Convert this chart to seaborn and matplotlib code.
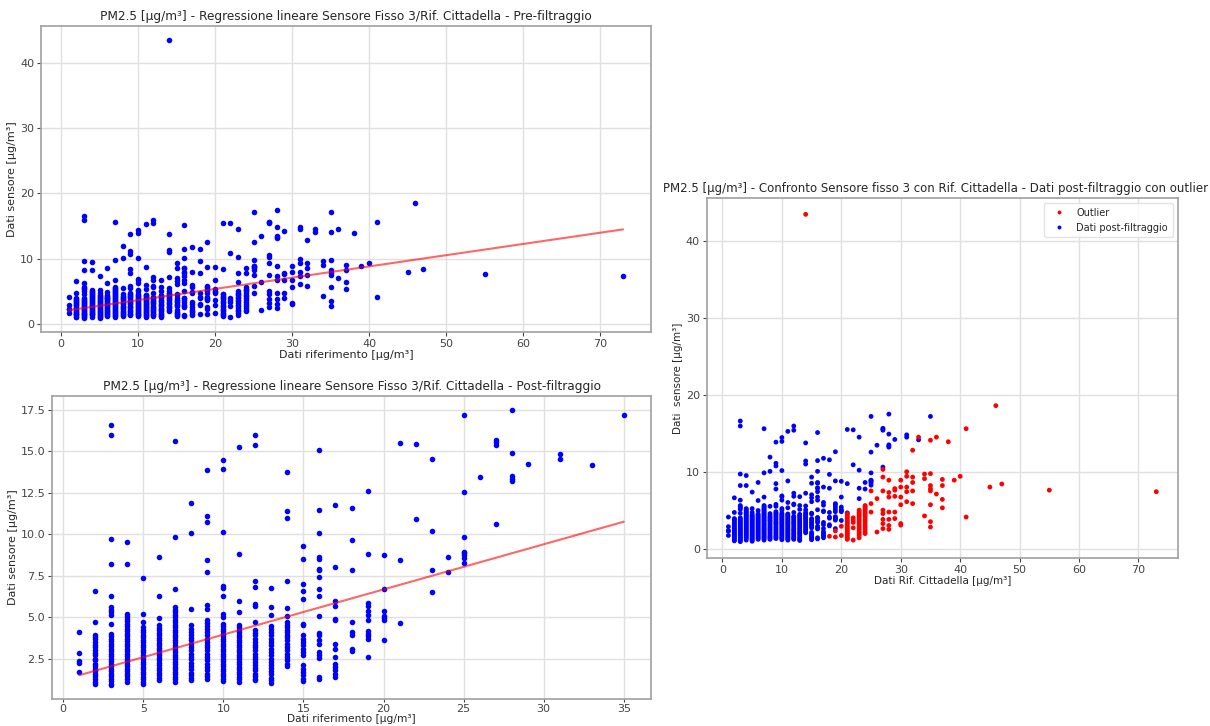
import numpy as np
import pandas as pd
import matplotlib
matplotlib.use("Agg")
import matplotlib.pyplot as plt
import seaborn as sns

# --- Post-filtering data: reference value (x) and sensor readings at that value ---
post_ref = [1, 2, 3, 4, 5, 6, 7, 8, 9, 10, 11, 12, 13, 14, 15, 16, 17, 18, 19, 20,
            21, 22, 23, 24, 25, 26, 27, 28, 29, 31, 33, 35]
post_sens = [
    [4.1, 2.85, 2.35, 2.25, 1.7],
    [6.6, 4.7, 3.9, 3.8, 3.7, 3.5, 3.35, 3.2, 3.0, 2.85, 2.7, 2.5, 2.4, 2.2, 2.05, 1.9,
     1.75, 1.6, 1.45, 1.3, 1.1, 1.0],
    [16.6, 15.95, 9.7, 8.2, 6.3, 5.6, 5.45, 5.3, 5.1, 4.6, 4.0, 3.85, 3.7, 3.55, 3.4, 3.25,
     3.1, 2.95, 2.8, 2.65, 2.5, 2.35, 2.2, 2.05, 1.9, 1.75, 1.6, 1.45, 1.3, 1.15, 1.0, 0.9],
    [9.5, 8.2, 5.2, 5.05, 4.9, 4.75, 4.6, 4.45, 4.3, 4.15, 4.0, 3.85, 3.7, 3.55, 3.4, 3.25,
     3.1, 2.95, 2.8, 2.65, 2.5, 2.35, 2.2, 2.05, 1.9, 1.75, 1.6, 1.45, 1.3, 1.1],
    [7.35, 5.2, 4.7, 4.4, 4.25, 4.1, 3.95, 3.8, 3.65, 3.5, 3.35, 3.2, 3.05, 2.9, 2.75, 2.6,
     2.45, 2.3, 2.15, 2.0, 1.85, 1.7, 1.55, 1.4, 1.25, 1.1, 0.95],
    [8.6, 6.25, 4.95, 4.5, 4.35, 4.2, 4.05, 3.9, 3.75, 3.6, 3.45, 3.3, 3.15, 3.0, 2.85, 2.7,
     2.55, 2.4, 2.25, 2.1, 1.95, 1.8, 1.65, 1.5, 1.35, 1.2],
    [15.6, 9.85, 6.7, 5.6, 5.45, 5.3, 5.15, 5.0, 4.85, 4.7, 4.55, 4.4, 4.25, 4.1, 3.95, 3.8,
     3.65, 3.5, 3.35, 3.2, 3.05, 2.9, 2.75, 2.6, 2.45, 2.3, 2.15, 2.0, 1.85, 1.7, 1.55, 1.4,
     1.25, 1.1],
    [11.9, 10.05, 5.5, 4.55, 4.3, 4.1, 3.95, 3.75, 3.6, 3.4, 3.2, 3.0, 2.8, 2.6, 2.45, 2.25,
     2.05, 1.85, 1.65, 1.5, 1.35, 1.2],
    [13.85, 11.1, 10.75, 8.45, 7.75, 5.75, 5.5, 4.8, 4.65, 4.45, 4.3, 4.1, 3.9, 3.7, 3.5,
     3.35, 3.2, 3.0, 2.8, 2.6, 2.4, 2.2, 2.0, 1.8, 1.6, 1.45, 1.3],
    [14.45, 13.95, 10.15, 6.85, 6.75, 6.3, 5.2, 5.0, 4.6, 4.45, 4.3, 4.15, 4.0, 3.85, 3.7,
     3.55, 3.4, 3.25, 3.1, 2.95, 2.8, 2.65, 2.5, 2.35, 2.2, 2.05, 1.9, 1.75, 1.6, 1.45, 1.3,
     1.15],
    [15.25, 8.8, 6.0, 5.3, 4.5, 4.4, 4.25, 4.1, 3.95, 3.8, 3.65, 3.5, 3.35, 3.2, 3.05, 2.9,
     2.75, 2.6, 2.45, 2.3, 2.15, 2.0, 1.85, 1.7, 1.55, 1.4, 1.25, 1.1],
    [15.95, 15.4, 7.2, 6.8, 5.8, 5.7, 4.7, 4.2, 4.05, 3.9, 3.7, 3.5, 3.35, 3.2, 3.0, 2.8,
     2.6, 2.45, 2.3, 2.1, 1.95, 1.8, 1.6, 1.45, 1.3, 1.2],
    [6.75, 5.6, 5.1, 4.45, 4.3, 4.1, 3.9, 3.7, 3.5, 3.3, 3.1, 2.9, 2.7, 2.5, 2.3, 2.1, 1.95,
     1.75, 1.55, 1.35, 1.2, 1.05],
    [13.75, 11.4, 11.0, 7.2, 5.55, 5.05, 4.7, 4.55, 4.4, 4.25, 4.1, 3.95, 3.8, 3.6, 3.4,
     3.2, 3.0, 2.8, 2.6, 2.4, 2.2, 2.05],
    [9.3, 8.5, 7.0, 6.6, 6.1, 4.6, 4.5, 3.9, 3.7, 3.5, 3.3, 3.1, 2.9, 2.7, 2.1, 1.9, 1.7,
     1.5, 1.3, 1.15],
    [15.1, 11.45, 10.05, 8.6, 8.5, 7.9, 7.85, 7.4, 6.7, 6.3, 5.05, 4.05, 3.9, 3.6, 3.4,
     2.9, 2.7, 2.55, 1.4, 1.25],
    [11.75, 8.0, 6.0, 5.65, 4.9, 4.8, 3.4, 3.1, 2.6, 2.2, 2.0, 1.8, 1.6, 1.4],
    [11.55, 9.65, 7.85, 4.7, 4.1, 3.95, 3.1, 2.95],
    [12.6, 8.8, 5.85, 5.7, 5.4, 5.1, 4.8, 4.15, 4.0, 3.85, 3.7, 2.6],
    [8.75, 6.7, 5.4, 5.05, 4.95, 4.8, 3.65],
    [15.5, 8.45, 4.65],
    [15.45, 10.9],
    [14.5, 10.2, 7.85, 6.5],
    [8.6, 7.75],
    [17.2, 12.55, 9.85, 8.9, 8.85, 8.75, 8.55, 8.25],
    [13.45],
    [15.65, 15.55, 15.4, 10.6],
    [17.5, 14.9, 13.5, 13.35, 13.2],
    [14.2],
    [14.8, 14.5],
    [14.15],
    [17.2],
]

# --- Points removed by the filter (outliers) ---
out_ref = [14, 18, 19, 20, 21, 22, 23, 24, 25, 26, 27, 28, 29, 30, 31, 32, 33, 34, 35,
           36, 37, 38, 39, 40, 41, 45, 46, 47, 55, 73]
out_sens = [
    [43.5],
    [1.6],
    [2.3, 1.5],
    [2.9, 1.7],
    [4.55, 4.35, 4.15, 3.95, 3.75, 3.55, 3.35, 3.15, 2.95, 2.75, 2.55, 2.35, 2.15, 1.95,
     1.75, 1.55, 1.35, 1.2],
    [4.0, 3.7, 3.4, 2.7, 1.1],
    [5.0, 4.8, 4.6, 4.4, 4.2, 3.95, 3.7, 3.45, 3.2, 2.95, 2.7, 2.45, 2.2, 1.95, 1.7, 1.4],
    [5.6, 5.4, 5.2, 5.0, 4.75, 4.5, 4.25, 4.0, 3.7, 3.4, 3.1, 2.8, 2.5, 2.2, 1.95],
    [7.5, 5.85, 4.75],
    [6.5, 2.15],
    [10.3, 9.3, 7.5, 5.0, 4.55, 3.8, 3.25, 2.6],
    [8.9, 7.3, 6.7, 4.75, 3.8, 3.0, 2.5],
    [7.8, 7.6, 6.8, 4.75, 3.9],
    [8.9, 8.0, 6.7, 5.7, 3.25, 3.05],
    [10.0, 9.4, 8.0, 7.4, 6.1],
    [12.8, 9.3, 8.6, 7.5, 5.85],
    [14.5],
    [9.7, 9.1, 4.25],
    [14.1, 9.75, 8.2, 7.8, 7.5, 5.7, 3.5, 2.8],
    [14.5, 7.1],
    [9.0, 8.2, 6.4, 5.3],
    [13.9],
    [8.9],
    [9.4],
    [15.6, 4.1],
    [8.0],
    [18.6],
    [8.4],
    [7.6],
    [7.4],
]

# Linear regression coefficients (slope, intercept)
fit_pre = (0.172, 1.93)
fit_post = (0.272, 1.23)

UNIT = "[µg/m³]"
title_pre = f"PM2.5 {UNIT} - Regressione lineare Sensore Fisso 3/Rif. Cittadella - Pre-filtraggio"
title_post = f"PM2.5 {UNIT} - Regressione lineare Sensore Fisso 3/Rif. Cittadella - Post-filtraggio"
title_cmp = f"PM2.5 {UNIT} - Confronto Sensore fisso 3 con Rif. Cittadella - Dati post-filtraggio con outlier"
lbl_out = "Outlier"
lbl_post = "Dati post-filtraggio"


def to_frame(refs, sens, group):
    rows = [(r, s) for r, col in zip(refs, sens) for s in col]
    df = pd.DataFrame(rows, columns=["rif", "sensore"])
    df["gruppo"] = group
    return df


df_post = to_frame(post_ref, post_sens, lbl_post)
df_out = to_frame(out_ref, out_sens, lbl_out)
df_all = pd.concat([df_post, df_out], ignore_index=True)

sns.set_style("whitegrid", {
    "axes.edgecolor": "#a0a0a0",
    "grid.color": "#e0e0e0",
    "xtick.bottom": True,
    "ytick.left": True,
    "xtick.color": "#444444",
    "ytick.color": "#444444",
})
plt.rcParams["font.family"] = ["DejaVu Sans"]
plt.rcParams["axes.linewidth"] = 1.2

fig = plt.figure(figsize=(12.1, 7.26), dpi=100)
ax1 = fig.add_axes([0.0339, 0.5427, 0.504, 0.4215])
ax2 = fig.add_axes([0.0430, 0.0372, 0.495, 0.4175])
ax3 = fig.add_axes([0.5843, 0.2314, 0.389, 0.4959])

tick_fs = 8
lab_fs = 8
pt_size = 16


def draw_fit(ax, df, coef):
    xs = np.array([df["rif"].min(), df["rif"].max()], dtype=float)
    ax.plot(xs, coef[0] * xs + coef[1], color="red", alpha=0.6, lw=1.5, zorder=3)


# Pre-filtering: all data
sns.scatterplot(data=df_all, x="rif", y="sensore", color="blue", s=pt_size,
                linewidth=0, ax=ax1, zorder=2)
draw_fit(ax1, df_all, fit_pre)
ax1.set_title(title_pre, fontsize=8.75, pad=4)
ax1.set_xlabel(f"Dati riferimento {UNIT}", fontsize=lab_fs, labelpad=1)
ax1.set_ylabel(f"Dati sensore {UNIT}", fontsize=lab_fs, labelpad=2)
ax1.set_xticks([0, 10, 20, 30, 40, 50, 60, 70])
ax1.set_yticks([0, 10, 20, 30, 40])

# Post-filtering data only
sns.scatterplot(data=df_post, x="rif", y="sensore", color="blue", s=pt_size,
                linewidth=0, ax=ax2, zorder=2)
draw_fit(ax2, df_post, fit_post)
ax2.set_title(title_post, fontsize=8.75, pad=4)
ax2.set_xlabel(f"Dati riferimento {UNIT}", fontsize=lab_fs - 0.3, labelpad=0)
ax2.set_ylabel(f"Dati sensore {UNIT}", fontsize=lab_fs, labelpad=2)
ax2.set_xticks([0, 5, 10, 15, 20, 25, 30, 35])
ax2.set_yticks([2.5, 5.0, 7.5, 10.0, 12.5, 15.0, 17.5])

# Comparison with outliers highlighted
sns.scatterplot(data=df_all, x="rif", y="sensore", hue="gruppo",
                hue_order=[lbl_out, lbl_post],
                palette={lbl_out: "red", lbl_post: "blue"}, s=12,
                linewidth=0, ax=ax3, zorder=2)
ax3.set_title(title_cmp, fontsize=8.45, pad=4, x=0.485)
ax3.set_xlabel(f"Dati Rif. Cittadella {UNIT}", fontsize=lab_fs - 0.5, labelpad=1)
ax3.set_ylabel(f"Dati  sensore {UNIT}", fontsize=lab_fs - 0.5, labelpad=2)
ax3.set_xticks([0, 10, 20, 30, 40, 50, 60, 70])
ax3.set_yticks([0, 10, 20, 30, 40])
leg = ax3.legend(loc="upper right", fontsize=7, frameon=True, markerscale=0.8,
                 handletextpad=0.8, borderpad=0.5)
leg.get_frame().set_edgecolor("#dddddd")

for ax in (ax1, ax2, ax3):
    ax.tick_params(labelsize=tick_fs, length=3, width=0.8, pad=2)
    ax.grid(True, lw=1.0)
    ax.set_axisbelow(True)
ax2.tick_params(axis="x", length=2, pad=1.5)

fig.savefig("out.png", dpi=100)
